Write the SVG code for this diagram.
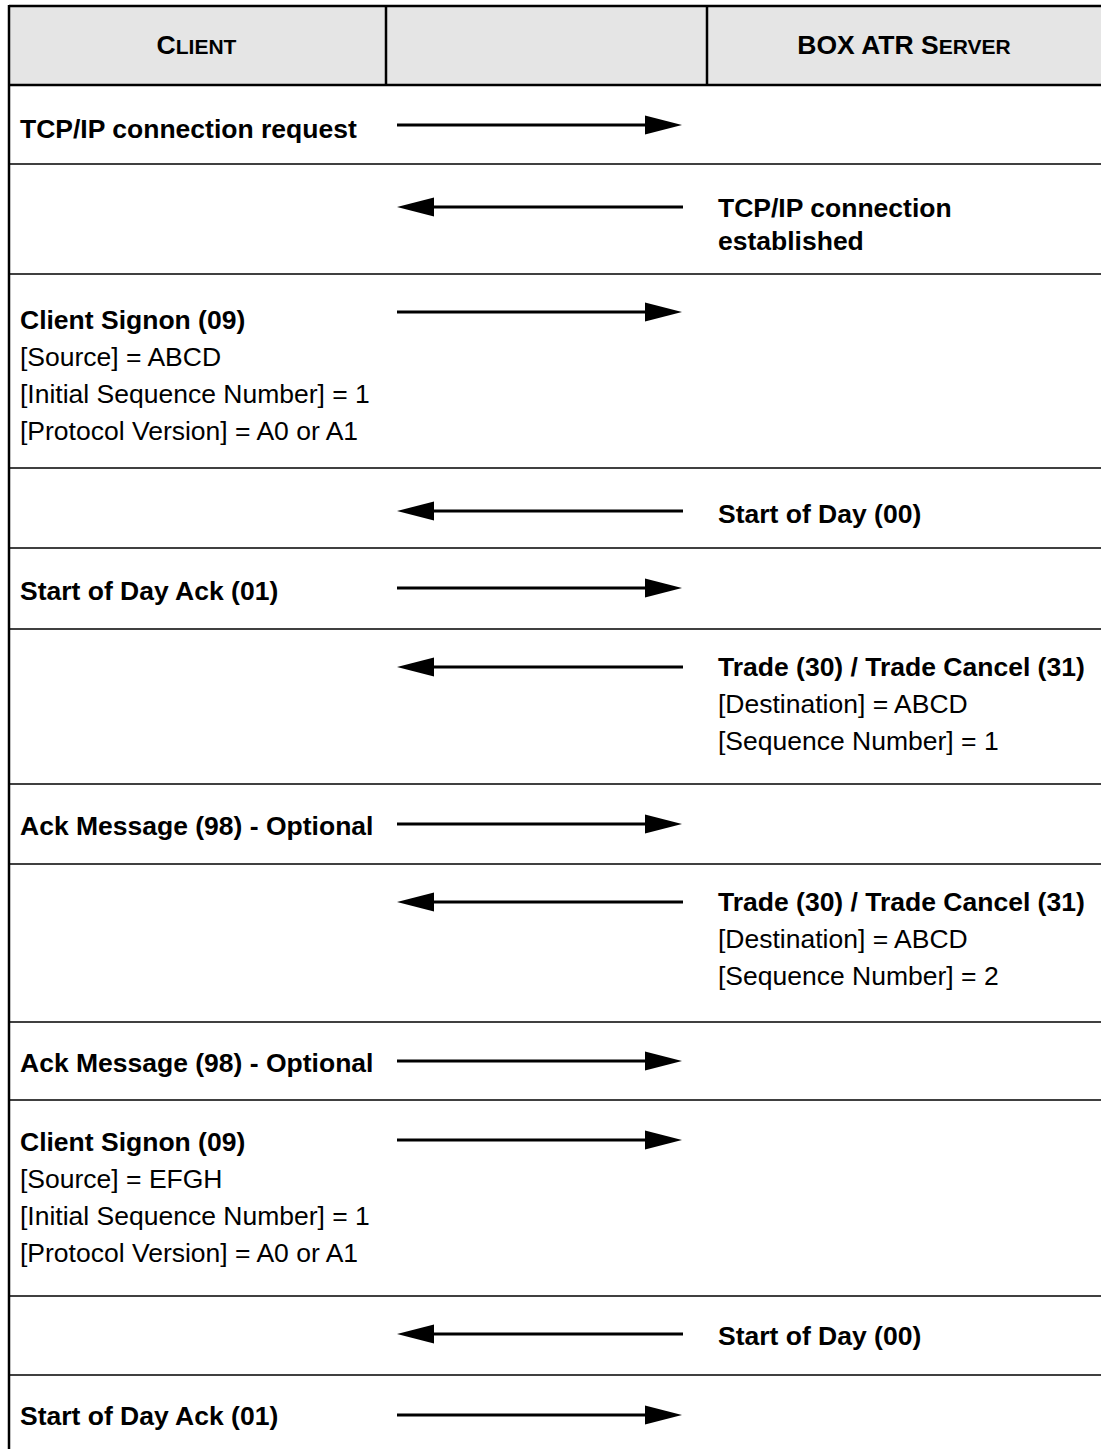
<svg xmlns="http://www.w3.org/2000/svg" width="1101" height="1449" viewBox="0 0 1101 1449">
<style>
  text { font-family: "Liberation Sans", Arial, sans-serif; fill: #000; }
  .b { font-weight: bold; font-size: 26.5px; }
  .r { font-size: 26.5px; }
  .h { font-weight: bold; font-size: 26.5px; }
  .sc { font-size: 21px; }
  .sep { stroke: #000; stroke-width: 1.5; }
  .thick { stroke: #000; stroke-width: 2.5; }
  .arrow { stroke: #000; stroke-width: 3.2; fill: none; marker-end: url(#head); }
</style>
<defs>
  <marker id="head" markerUnits="userSpaceOnUse" markerWidth="38" markerHeight="20" viewBox="0 -10 38 20" refX="0" refY="0" orient="auto">
    <path d="M0,-9.5 L37,0 L0,9.5 Z" fill="#000"/>
  </marker>
</defs>
<rect x="0" y="0" width="1101" height="1449" fill="#fff"/>

<g id="header">
  <rect x="9" y="6" width="1092" height="79" fill="#e5e5e5"/>
  <text class="h" x="196.5" y="54" text-anchor="middle">C<tspan class="sc">LIENT</tspan></text>
  <text class="h" x="904" y="54" text-anchor="middle">BOX ATR S<tspan class="sc">ERVER</tspan></text>
</g>

<g id="grid">
  <line class="thick" x1="9" y1="6" x2="1101" y2="6"/>
  <line class="thick" x1="9" y1="85" x2="1101" y2="85"/>
  <line class="thick" x1="386" y1="6" x2="386" y2="85"/>
  <line class="thick" x1="707" y1="6" x2="707" y2="85"/>
  <line class="thick" x1="9" y1="5" x2="9" y2="1449"/>
  <line class="sep" x1="9" y1="164" x2="1101" y2="164"/>
  <line class="sep" x1="9" y1="274" x2="1101" y2="274"/>
  <line class="sep" x1="9" y1="468" x2="1101" y2="468"/>
  <line class="sep" x1="9" y1="548" x2="1101" y2="548"/>
  <line class="sep" x1="9" y1="629" x2="1101" y2="629"/>
  <line class="sep" x1="9" y1="784" x2="1101" y2="784"/>
  <line class="sep" x1="9" y1="864" x2="1101" y2="864"/>
  <line class="sep" x1="9" y1="1022" x2="1101" y2="1022"/>
  <line class="sep" x1="9" y1="1100" x2="1101" y2="1100"/>
  <line class="sep" x1="9" y1="1296" x2="1101" y2="1296"/>
  <line class="sep" x1="9" y1="1375" x2="1101" y2="1375"/>
</g>

<g id="row-tcp-request">
  <text class="b" x="20" y="138">TCP/IP connection request</text>
</g>
<g id="row-tcp-established">
  <text class="b" x="718" y="217">TCP/IP connection</text>
  <text class="b" x="718" y="250">established</text>
</g>
<g id="row-signon-1">
  <text class="b" x="20" y="329">Client Signon (09)</text>
  <text class="r" x="20" y="366">[Source] = ABCD</text>
  <text class="r" x="20" y="403">[Initial Sequence Number] = 1</text>
  <text class="r" x="20" y="440">[Protocol Version] = A0 or A1</text>
</g>
<g id="row-sod-1">
  <text class="b" x="718" y="523">Start of Day (00)</text>
</g>
<g id="row-sodack-1">
  <text class="b" x="20" y="600">Start of Day Ack (01)</text>
</g>
<g id="row-trade-1">
  <text class="b" x="718" y="676">Trade (30) / Trade Cancel (31)</text>
  <text class="r" x="718" y="713">[Destination] = ABCD</text>
  <text class="r" x="718" y="750">[Sequence Number] = 1</text>
</g>
<g id="row-ack-1">
  <text class="b" x="20" y="835">Ack Message (98) - Optional</text>
</g>
<g id="row-trade-2">
  <text class="b" x="718" y="911">Trade (30) / Trade Cancel (31)</text>
  <text class="r" x="718" y="948">[Destination] = ABCD</text>
  <text class="r" x="718" y="985">[Sequence Number] = 2</text>
</g>
<g id="row-ack-2">
  <text class="b" x="20" y="1072">Ack Message (98) - Optional</text>
</g>
<g id="row-signon-2">
  <text class="b" x="20" y="1151">Client Signon (09)</text>
  <text class="r" x="20" y="1188">[Source] = EFGH</text>
  <text class="r" x="20" y="1225">[Initial Sequence Number] = 1</text>
  <text class="r" x="20" y="1262">[Protocol Version] = A0 or A1</text>
</g>
<g id="row-sod-2">
  <text class="b" x="718" y="1345">Start of Day (00)</text>
</g>
<g id="row-sodack-2">
  <text class="b" x="20" y="1425">Start of Day Ack (01)</text>
</g>

<g id="connectors">
  <line class="arrow" x1="397" y1="125" x2="645" y2="125"/>
  <line class="arrow" x1="683" y1="207" x2="434" y2="207"/>
  <line class="arrow" x1="397" y1="312" x2="645" y2="312"/>
  <line class="arrow" x1="683" y1="511" x2="434" y2="511"/>
  <line class="arrow" x1="397" y1="588" x2="645" y2="588"/>
  <line class="arrow" x1="683" y1="667" x2="434" y2="667"/>
  <line class="arrow" x1="397" y1="824" x2="645" y2="824"/>
  <line class="arrow" x1="683" y1="902" x2="434" y2="902"/>
  <line class="arrow" x1="397" y1="1061" x2="645" y2="1061"/>
  <line class="arrow" x1="397" y1="1140" x2="645" y2="1140"/>
  <line class="arrow" x1="683" y1="1334" x2="434" y2="1334"/>
  <line class="arrow" x1="397" y1="1415" x2="645" y2="1415"/>
</g>
</svg>
